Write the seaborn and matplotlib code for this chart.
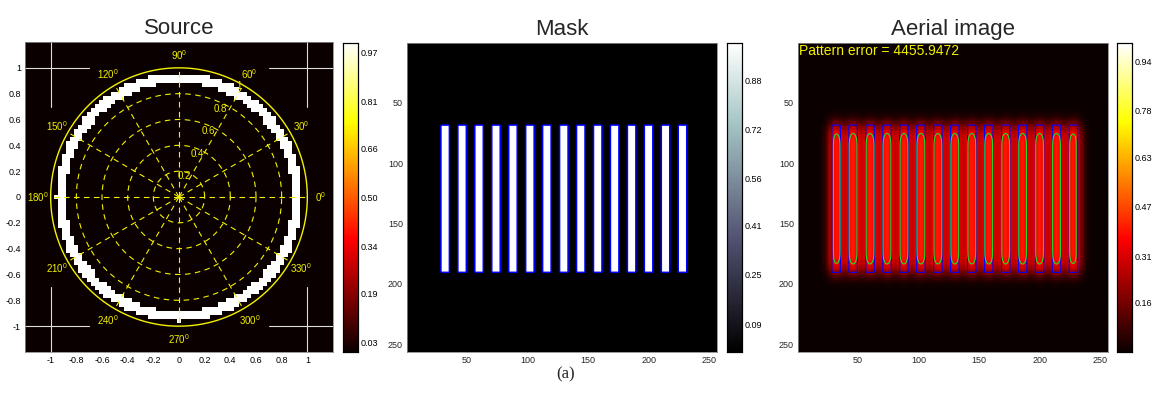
import numpy as np
import matplotlib
matplotlib.use("Agg")
import matplotlib.pyplot as plt
import seaborn as sns

# ==========================================
# Data
# ==========================================

# source (annular illumination) on a square pupil grid
src_n = 75
src_lim = 1.2
sigma_in = 0.885
sigma_out = 0.96
src_ticks = [-1, -0.8, -0.6, -0.4, -0.2, 0, 0.2, 0.4, 0.6, 0.8, 1]

# polar grid drawn on top of the source
polar_angles = [0, 30, 60, 90, 120, 150, 180, 210, 240, 270, 300, 330]
polar_rings = [0.2, 0.4, 0.6, 0.8]
polar_rmax = 1.0
angle_label_r = 1.1
rlabel_text = ["0.2", "0.4", "0.6", "0.8", "1"]
rlabel_x = [0.04, 0.14, 0.225, 0.32, 0.47]
rlabel_y = [0.16, 0.33, 0.51, 0.68, 0.86]
guide_pos = 1.0
guide_gap = 0.7

# mask: 15 lines on a 256 x 256 grid (matlab 1-based columns)
mask_size = 256
bar_cols = [29, 43, 57, 71, 85, 99, 113, 127, 141, 155, 169, 183, 197, 211, 225]
bar_width = 7
bar_row_top = 69
bar_row_bottom = 190
pixel_ticks = [50, 100, 150, 200, 250]

# aerial image
blur_sigma_x = 4.5
blur_sigma_y = 6.0
aerial_peak = 0.40
resist_threshold = 0.35
pattern_error = 4455.9472

src_cbar_ticks = [0.03, 0.19, 0.34, 0.50, 0.66, 0.81, 0.97]
mask_cbar_ticks = [0.09, 0.25, 0.41, 0.56, 0.72, 0.88]
aer_cbar_ticks = [0.16, 0.31, 0.47, 0.63, 0.78, 0.94]

# ==========================================
# Build images
# ==========================================

dx = 2 * src_lim / src_n
c = -src_lim + (np.arange(src_n) + 0.5) * dx
sx, sy = np.meshgrid(c, c[::-1])
rr = np.hypot(sx, sy)
src_img = ((rr >= sigma_in) & (rr <= sigma_out)).astype(float)

mask = np.zeros((mask_size, mask_size))
for col in bar_cols:
    mask[bar_row_top - 1:bar_row_bottom, col - 1:col - 1 + bar_width] = 1.0


def gauss(s):
    t = np.arange(-int(4 * s), int(4 * s) + 1)
    g = np.exp(-0.5 * (t / s) ** 2)
    return g / g.sum()


aerial = np.apply_along_axis(lambda r: np.convolve(r, gauss(blur_sigma_x), mode="same"), 1, mask)
aerial = np.apply_along_axis(lambda r: np.convolve(r, gauss(blur_sigma_y), mode="same"), 0, aerial)
aerial = aerial * aerial_peak / aerial.max()

# ==========================================
# Figure
# ==========================================

sns.set_style("white")
plt.rcParams["font.family"] = ["Liberation Sans", "DejaVu Sans"]
plt.rcParams["mathtext.fontset"] = "custom"
plt.rcParams["mathtext.rm"] = "Liberation Sans"

W, H = 1153, 394
fig = plt.figure(figsize=(W / 100, H / 100), dpi=100)


def rect(left, top, w, h):
    return [left / W, 1 - (top + h) / H, w / W, h / H]


yellow = "#f2f200"
tick_fs = 6.5


def style_cbar(cax, ticks):
    cax.set_yticks(ticks)
    cax.set_yticklabels(["%.2f" % t for t in ticks])
    cax.tick_params(direction="in", length=3, width=0.6, left=True, right=True,
                    labelsize=tick_fs, pad=2, colors="black")
    for s in cax.spines.values():
        s.set_visible(True)
        s.set_color("black")
        s.set_linewidth(0.8)


# ---------- Source ----------
ax_s = fig.add_axes(rect(25, 42, 308, 310))
cax_s = fig.add_axes(rect(343, 43, 15, 309))
sns.heatmap(src_img, ax=ax_s, cmap="hot", vmin=0, vmax=1, cbar_ax=cax_s,
            xticklabels=False, yticklabels=False)
ax_s.collections[0].colorbar.outline.set_linewidth(0.8)
ax_s.set_xticks([])
ax_s.set_yticks([])
style_cbar(cax_s, src_cbar_ticks)

ax_p = fig.add_axes(rect(25, 42, 308, 310))
ax_p.set_facecolor("none")
ax_p.set_xlim(-src_lim, src_lim)
ax_p.set_ylim(-src_lim, src_lim)

th = np.linspace(0, 2 * np.pi, 361)
for r in polar_rings:
    ax_p.plot(r * np.cos(th), r * np.sin(th), color=yellow, lw=0.8, dashes=(5, 4))
ax_p.plot(polar_rmax * np.cos(th), polar_rmax * np.sin(th), color=yellow, lw=1.0)
for a in polar_angles:
    t = np.deg2rad(a)
    ax_p.plot([0, polar_rmax * np.cos(t)], [0, polar_rmax * np.sin(t)],
              color=yellow, lw=0.8, dashes=(5, 4))
    ax_p.text(angle_label_r * np.cos(t), angle_label_r * np.sin(t), "%d$^0$" % a,
              color=yellow, fontsize=7, ha="center", va="center")
for txt, x, y in zip(rlabel_text, rlabel_x, rlabel_y):
    ax_p.text(x, y, txt, color=yellow, fontsize=7, ha="center", va="center")

for gx in (-1, 1):
    for gy in (-1, 1):
        ax_p.plot([gx * guide_gap, gx * src_lim], [gy * guide_pos] * 2, color="#dddddd", lw=0.8)
        ax_p.plot([gx * guide_pos] * 2, [gy * guide_gap, gy * src_lim], color="#dddddd", lw=0.8)

ax_p.set_xticks(src_ticks)
ax_p.set_xticklabels(["%g" % v for v in src_ticks])
ax_p.set_yticks(src_ticks)
ax_p.set_yticklabels(["%g" % v for v in src_ticks])
ax_p.tick_params(direction="in", length=3, width=0.6, color="#cccccc",
                 labelcolor="black", labelsize=tick_fs, pad=3)
for s in ax_p.spines.values():
    s.set_color("#888888")
    s.set_linewidth(0.6)
ax_p.set_title("Source", fontsize=16, pad=6)

# ---------- Mask & Aerial ----------
pix = np.arange(mask_size) + 0.5


def image_panel(left, cleft, data, cmap, title, cticks, lw):
    ax = fig.add_axes(rect(left, 43, 310, 309))
    cax = fig.add_axes(rect(cleft, 43, 15, 309))
    sns.heatmap(data, ax=ax, cmap=cmap, vmin=0, vmax=1, cbar_ax=cax,
                xticklabels=False, yticklabels=False)
    ax.collections[0].colorbar.outline.set_linewidth(0.8)
    style_cbar(cax, cticks)
    ax.set_xticks([v - 0.5 for v in pixel_ticks])
    ax.set_xticklabels([str(v) for v in pixel_ticks])
    ax.set_yticks([v - 0.5 for v in pixel_ticks])
    ax.set_yticklabels([str(v) for v in pixel_ticks], rotation=0)
    ax.tick_params(direction="in", length=3, width=0.6, color="black",
                   labelsize=tick_fs, pad=3, bottom=True, left=True)
    for s in ax.spines.values():
        s.set_visible(True)
        s.set_color("#888888")
        s.set_linewidth(0.6)
    ax.set_title(title, fontsize=16, pad=6)
    ax.contour(pix, pix, mask, levels=[0.5], colors="#0000ff", linewidths=lw)
    return ax


ax_m = image_panel(407, 727, mask, "bone", "Mask", mask_cbar_ticks, 1.1)

ax_a = image_panel(798, 1117, aerial, "hot", "Aerial image", aer_cbar_ticks, 0.8)
ax_a.contour(pix, pix, aerial, levels=[resist_threshold], colors="#22e022", linewidths=0.8)
ax_a.text(0.003, 0.997, "Pattern error = %.4f" % pattern_error, transform=ax_a.transAxes,
          ha="left", va="top", color=yellow, fontsize=10)

fig.text(566 / W, 1 - 374 / H, "(a)", family=["Liberation Serif", "DejaVu Serif"],
         fontsize=12, ha="center", va="center")

fig.savefig("out.png", dpi=100, facecolor="white")
